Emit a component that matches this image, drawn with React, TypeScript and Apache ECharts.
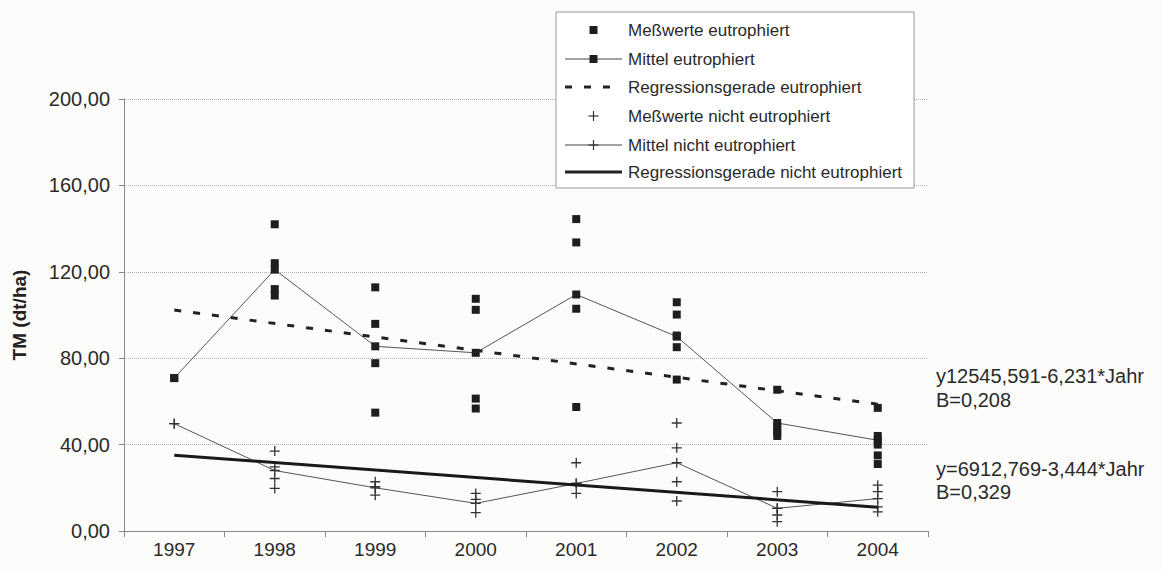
import React, { useEffect, useRef } from "react";
import * as echarts from "echarts";

const years = ["1997", "1998", "1999", "2000", "2001", "2002", "2003", "2004"];

// Meßwerte eutrophiert, per year
const measEutro: number[][] = [
  [70.8],
  [142, 124, 112, 109],
  [112.8, 95.9, 77.7, 54.8],
  [107.5, 102.4, 61.3, 56.7],
  [144.4, 133.6, 102.9, 57.4],
  [105.9, 100.2, 90.5, 85.1, 70.1],
  [65.4, 48, 46, 44],
  [57, 44, 40, 35, 31],
];
const meanEutro = [70.8, 121, 85.5, 82.5, 109.5, 90, 50, 42];

// Meßwerte nicht eutrophiert, per year
const measNon: number[][] = [
  [49.7],
  [37, 29.7, 24.3, 19.7],
  [22.8, 20.5, 16.6],
  [17.4, 14.6, 8.5],
  [31.6, 22, 17.4],
  [50, 38.5, 22.8, 13.9],
  [18.2, 10.5, 7.4, 4.3],
  [21.2, 18.2, 11.2, 8.9],
];
const meanNon = [49.7, 28, 20, 12.8, 22, 31.6, 10.5, 15];

// regression lines (start 1997, end 2004)
const regEutro: [number, number][] = [[0, 102.3], [7, 58.7]];
const regNon: [number, number][] = [[0, 35.1], [7, 11.0]];

const legendLabels = [
  "Meßwerte eutrophiert",
  "Mittel eutrophiert",
  "Regressionsgerade eutrophiert",
  "Meßwerte nicht eutrophiert",
  "Mittel nicht eutrophiert",
  "Regressionsgerade nicht eutrophiert",
];

const annotations = [
  ["y12545,591-6,231*Jahr", "B=0,208"],
  ["y=6912,769-3,444*Jahr", "B=0,329"],
];

const FONT = "'Liberation Sans', Arial, sans-serif";
const PLUS = "path://M4.35,0H5.65V4.35H10V5.65H5.65V10H4.35V5.65H0V4.35H4.35Z";
const DARK = "#1e1e1e";

function flatten(arr: number[][]): [number, number][] {
  const out: [number, number][] = [];
  arr.forEach((vals, i) => vals.forEach((v) => out.push([i, v])));
  return out;
}

export default function App() {
  const ref = useRef<HTMLDivElement>(null);
  useEffect(() => {
    if (!ref.current) return;
    const chart = echarts.init(ref.current, undefined, { renderer: "svg" });

    const rowY = [30, 59, 87, 116, 145, 172];
    const symX0 = 565;
    const symX1 = 622;
    const symC = (symX0 + symX1) / 2;
    const legendGraphics: any[] = [
      {
        type: "rect",
        shape: { x: 556, y: 12, width: 358, height: 176 },
        style: { fill: "#ffffff", stroke: "#9a9a9a", lineWidth: 1 },
        z: 100,
      },
    ];
    const sq = (cy: number) => ({
      type: "rect",
      shape: { x: symC - 4, y: cy - 4, width: 8, height: 8 },
      style: { fill: DARK },
      z: 102,
    });
    const plus = (cy: number) => ({
      type: "group",
      z: 102,
      children: [
        { type: "line", shape: { x1: symC - 5, y1: cy, x2: symC + 5, y2: cy }, style: { stroke: "#333", lineWidth: 1.2 }, z: 102 },
        { type: "line", shape: { x1: symC, y1: cy - 5, x2: symC, y2: cy + 5 }, style: { stroke: "#333", lineWidth: 1.2 }, z: 102 },
      ],
    });
    const hline = (cy: number, w: number, dash?: number[]) => ({
      type: "line",
      shape: { x1: symX0, y1: cy, x2: symX1, y2: cy },
      style: { stroke: w > 2 ? "#222" : "#444", lineWidth: w, lineDash: dash },
      z: 101,
    });
    legendGraphics.push(sq(rowY[0]));
    legendGraphics.push(hline(rowY[1], 1));
    legendGraphics.push(sq(rowY[1]));
    legendGraphics.push(hline(rowY[2], 3, [7, 12]));
    legendGraphics.push(plus(rowY[3]));
    legendGraphics.push(hline(rowY[4], 1));
    legendGraphics.push(plus(rowY[4]));
    legendGraphics.push(hline(rowY[5], 3));
    legendLabels.forEach((t, i) => {
      legendGraphics.push({
        type: "text",
        x: 628,
        y: rowY[i],
        z: 103,
        style: {
          text: t,
          fontSize: 17,
          fontFamily: FONT,
          fill: "#2a2a2a",
          verticalAlign: "middle",
          align: "left",
        },
      });
    });

    const annY = [
      [376, 400],
      [469, 492],
    ];
    const annGraphics: any[] = [];
    annotations.forEach((lines, k) => {
      lines.forEach((t, j) => {
        annGraphics.push({
          type: "text",
          x: 936,
          y: annY[k][j],
          style: {
            text: t,
            fontSize: 20,
            fontFamily: FONT,
            fill: "#2a2a2a",
            verticalAlign: "middle",
            align: "left",
          },
        });
      });
    });

    chart.setOption({
      animation: false,
      backgroundColor: "#fcfcfa",
      grid: { left: 124, right: 234, top: 99, bottom: 40 },
      xAxis: {
        type: "category",
        data: years,
        boundaryGap: true,
        axisLine: { lineStyle: { color: "#888", width: 1 } },
        axisTick: { show: true, length: 6, lineStyle: { color: "#888" } },
        axisLabel: { fontSize: 19, fontFamily: FONT, color: "#2a2a2a", margin: 9 },
        splitLine: { show: false },
      },
      yAxis: {
        type: "value",
        min: 0,
        max: 200,
        interval: 40,
        name: "TM (dt/ha)",
        nameLocation: "middle",
        nameGap: 95,
        nameTextStyle: { fontSize: 19, fontWeight: "bold", fontFamily: FONT, color: "#222" },
        axisLine: { show: true, lineStyle: { color: "#888", width: 1 } },
        axisTick: { show: true, length: 5, lineStyle: { color: "#888" } },
        axisLabel: {
          fontSize: 20,
          fontFamily: FONT,
          color: "#2a2a2a",
          margin: 14,
          formatter: (v: number) => v.toFixed(2).replace(".", ","),
        },
        splitLine: { show: true, lineStyle: { color: "#b0b0b0", type: "dotted", width: 1 } },
      },
      series: [
        {
          name: "Mittel eutrophiert",
          type: "line",
          data: meanEutro,
          symbol: "rect",
          symbolSize: 8,
          itemStyle: { color: DARK, opacity: 1 },
          lineStyle: { color: "#555", width: 1 },
          z: 3,
        },
        {
          name: "Meßwerte eutrophiert",
          type: "scatter",
          data: flatten(measEutro),
          symbol: "rect",
          symbolSize: 8,
          itemStyle: { color: DARK, opacity: 1 },
          z: 4,
        },
        {
          name: "Regressionsgerade eutrophiert",
          type: "line",
          data: regEutro,
          showSymbol: false,
          symbol: "none",
          lineStyle: { color: "#222", width: 3, type: [7, 12] },
          z: 5,
        },
        {
          name: "Mittel nicht eutrophiert",
          type: "line",
          data: meanNon,
          symbol: PLUS,
          symbolSize: 10,
          itemStyle: { color: "#333", opacity: 1 },
          lineStyle: { color: "#555", width: 1 },
          z: 3,
        },
        {
          name: "Meßwerte nicht eutrophiert",
          type: "scatter",
          data: flatten(measNon),
          symbol: PLUS,
          symbolSize: 10,
          itemStyle: { color: "#333", opacity: 1 },
          z: 4,
        },
        {
          name: "Regressionsgerade nicht eutrophiert",
          type: "line",
          data: regNon,
          showSymbol: false,
          symbol: "none",
          lineStyle: { color: "#1a1a1a", width: 3 },
          z: 5,
        },
      ],
      graphic: [...legendGraphics, ...annGraphics],
    });
    return () => chart.dispose();
  }, []);
  return (
    <div
      ref={ref}
      style={{ position: "absolute", left: 0, top: 0, width: 1162, height: 571 }}
    />
  );
}
